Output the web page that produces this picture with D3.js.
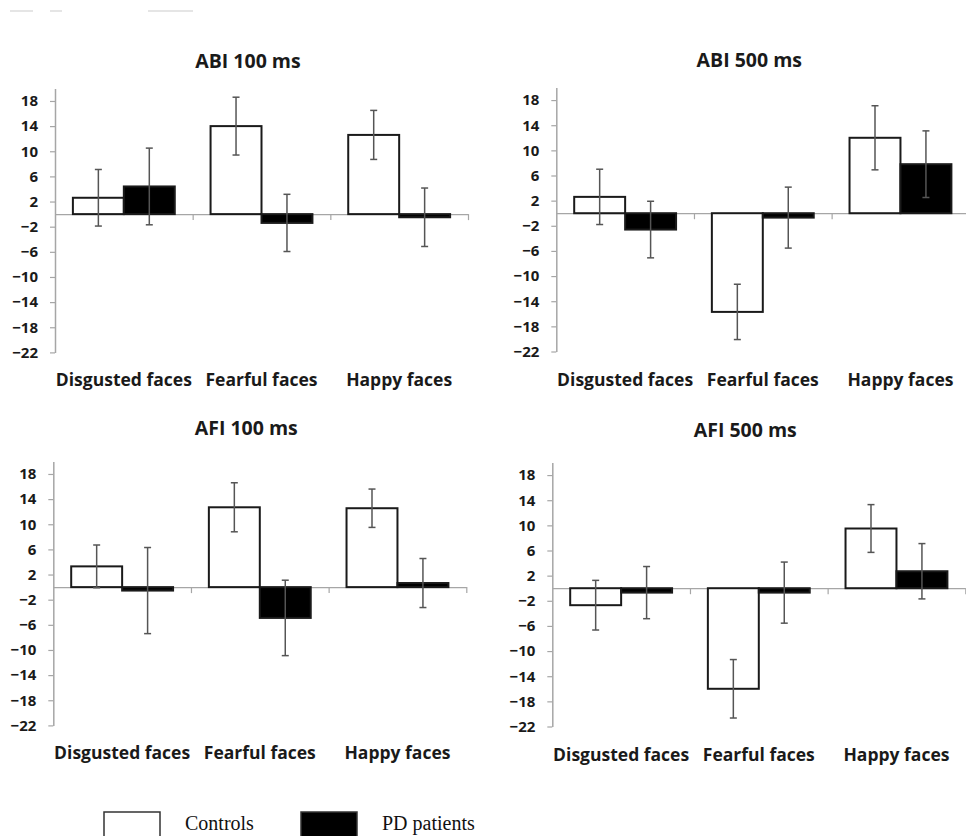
<!DOCTYPE html>
<html>
<head>
<meta charset="utf-8">
<script src="https://cdn.jsdelivr.net/npm/d3@7"></script>
<style>
  body { margin: 0; background: #fff; }
  svg { display: block; }
  .tick text { font-family: "Open Sans", Lato, sans-serif; font-weight: bold; fill: #1a1a1a; }
</style>
</head>
<body>
<div id="chart"></div>
<script>
// Data
const categories = ["Disgusted faces", "Fearful faces", "Happy faces"];
const groups = ["Controls", "PD patients"];
const panelTitles = ["ABI 100 ms", "ABI 500 ms", "AFI 100 ms", "AFI 500 ms"];
const yTicks = [18, 14, 10, 6, 2, -2, -6, -10, -14, -18, -22];

// one row per panel, one value per category
const controlsMean = [[2.6, 14.0, 12.6], [2.6, -15.7, 12.0], [3.3, 12.7, 12.55], [-2.7, -16.0, 9.5]];
const controlsErr  = [[4.5, 4.6, 3.9],   [4.4, 4.4, 5.1],    [3.4, 3.9, 3.05],   [3.95, 4.65, 3.8]];
const patientsMean = [[4.4, -1.4, -0.5], [-2.6, -0.7, 7.8],  [-0.55, -4.9, 0.65], [-0.7, -0.7, 2.7]];
const patientsErr  = [[6.1, 4.55, 4.65], [4.5, 4.85, 5.3],   [6.85, 6.0, 3.9],   [4.15, 4.86, 4.4]];

const W = 966, H = 836;
const plotW = 413, plotH = 264;
const font = "'Open Sans', Lato, sans-serif";

// where each panel sits on the page
const layout = [
  { x: 55,    y: 88.4,  titleY: 68 },
  { x: 556.3, y: 87.5,  titleY: 66.7 },
  { x: 53.3,  y: 461.4, titleY: 435 },
  { x: 552.3, y: 462.5, titleY: 436.5 }
];

const svg = d3.select("#chart")
  .append("svg")
  .attr("width", W)
  .attr("height", H);

// faint scan marks at the very top of the original
svg.append("g")
  .selectAll("line")
  .data([[10, 33], [50, 62], [148, 193]])
  .join("line")
  .attr("x1", d => d[0]).attr("x2", d => d[1])
  .attr("y1", 11).attr("y2", 11)
  .attr("stroke", "#ddd")
  .attr("stroke-width", 1.5);

const y = d3.scaleLinear().domain([-22, 20]).range([plotH, 0]);

const x0 = d3.scaleBand()
  .domain(categories)
  .range([0, plotW])
  .paddingInner(0.26)
  .paddingOuter(0.13);

const x1 = d3.scaleBand()
  .domain(groups)
  .range([0, x0.bandwidth()]);

const xb = d3.scaleLinear().domain([0, 3]).range([0, plotW]);

panelTitles.forEach((title, p) => {
  const L = layout[p];
  const g = svg.append("g").attr("transform", `translate(${L.x},${L.y})`);

  // title
  svg.append("text")
    .attr("x", L.x + 193)
    .attr("y", L.titleY)
    .attr("text-anchor", "middle")
    .style("font-family", font)
    .style("font-weight", "bold")
    .style("font-size", "19.5px")
    .style("fill", "#1a1a1a")
    .text(title);

  // y axis
  const yAxis = g.append("g")
    .call(d3.axisLeft(y).tickValues(yTicks).tickSize(5).tickSizeOuter(0).tickPadding(12));
  yAxis.select(".domain").attr("stroke", "#a6a6a6").attr("stroke-width", 1.5);
  yAxis.selectAll(".tick line").attr("stroke", "#a6a6a6").attr("stroke-width", 1.2);
  yAxis.selectAll(".tick text").style("font-size", "15px");

  // zero line with category ticks
  const xAxis = g.append("g")
    .attr("transform", `translate(0,${y(0)})`)
    .call(d3.axisBottom(xb).tickValues([1, 2, 3]).tickFormat("").tickSize(6).tickSizeOuter(0));
  xAxis.select(".domain").attr("stroke", "#a6a6a6").attr("stroke-width", 1.2);
  xAxis.selectAll(".tick line").attr("stroke", "#a6a6a6").attr("stroke-width", 1.2);

  // bars
  const rows = categories.map((c, i) => [
    { cat: c, grp: groups[0], v: controlsMean[p][i], e: controlsErr[p][i] },
    { cat: c, grp: groups[1], v: patientsMean[p][i], e: patientsErr[p][i] }
  ]).flat();

  g.append("g")
    .selectAll("rect")
    .data(rows)
    .join("rect")
    .attr("x", d => x0(d.cat) + x1(d.grp))
    .attr("width", x1.bandwidth())
    .attr("y", d => y(Math.max(0, d.v)))
    .attr("height", d => Math.abs(y(d.v) - y(0)))
    .attr("fill", d => d.grp === groups[0] ? "#fff" : "#000")
    .attr("stroke", "#1a1a1a")
    .attr("stroke-width", 2);

  // error bars
  const eb = g.append("g")
    .selectAll("g")
    .data(rows)
    .join("g")
    .attr("transform", d => `translate(${x0(d.cat) + x1(d.grp) + x1.bandwidth() / 2},0)`)
    .attr("stroke", "#555")
    .attr("stroke-width", 1.5);
  eb.append("line")
    .attr("y1", d => y(d.v + d.e))
    .attr("y2", d => y(d.v - d.e));
  eb.append("line")
    .attr("x1", -3.5).attr("x2", 3.5)
    .attr("y1", d => y(d.v + d.e)).attr("y2", d => y(d.v + d.e));
  eb.append("line")
    .attr("x1", -3.5).attr("x2", 3.5)
    .attr("y1", d => y(d.v - d.e)).attr("y2", d => y(d.v - d.e));

  // category labels
  g.append("g")
    .selectAll("text")
    .data(categories)
    .join("text")
    .attr("x", d => x0(d) + x0.bandwidth() / 2)
    .attr("y", plotH + 34)
    .attr("text-anchor", "middle")
    .style("font-family", font)
    .style("font-weight", "bold")
    .style("font-size", "17.5px")
    .style("fill", "#1a1a1a")
    .text(d => d);
});

// legend
const legend = svg.append("g").attr("transform", "translate(104,812)");
const legendItems = legend.selectAll("g")
  .data(groups)
  .join("g")
  .attr("transform", (d, i) => `translate(${i * 197},0)`);
legendItems.append("rect")
  .attr("width", 56)
  .attr("height", 30)
  .attr("fill", (d, i) => i === 0 ? "#fff" : "#000")
  .attr("stroke", "#333")
  .attr("stroke-width", 1.5);
legendItems.append("text")
  .attr("x", 81)
  .attr("y", 18)
  .style("font-family", "'Liberation Serif', 'Times New Roman', serif")
  .style("font-size", "20px")
  .style("fill", "#111")
  .text(d => d);
</script>
</body>
</html>
